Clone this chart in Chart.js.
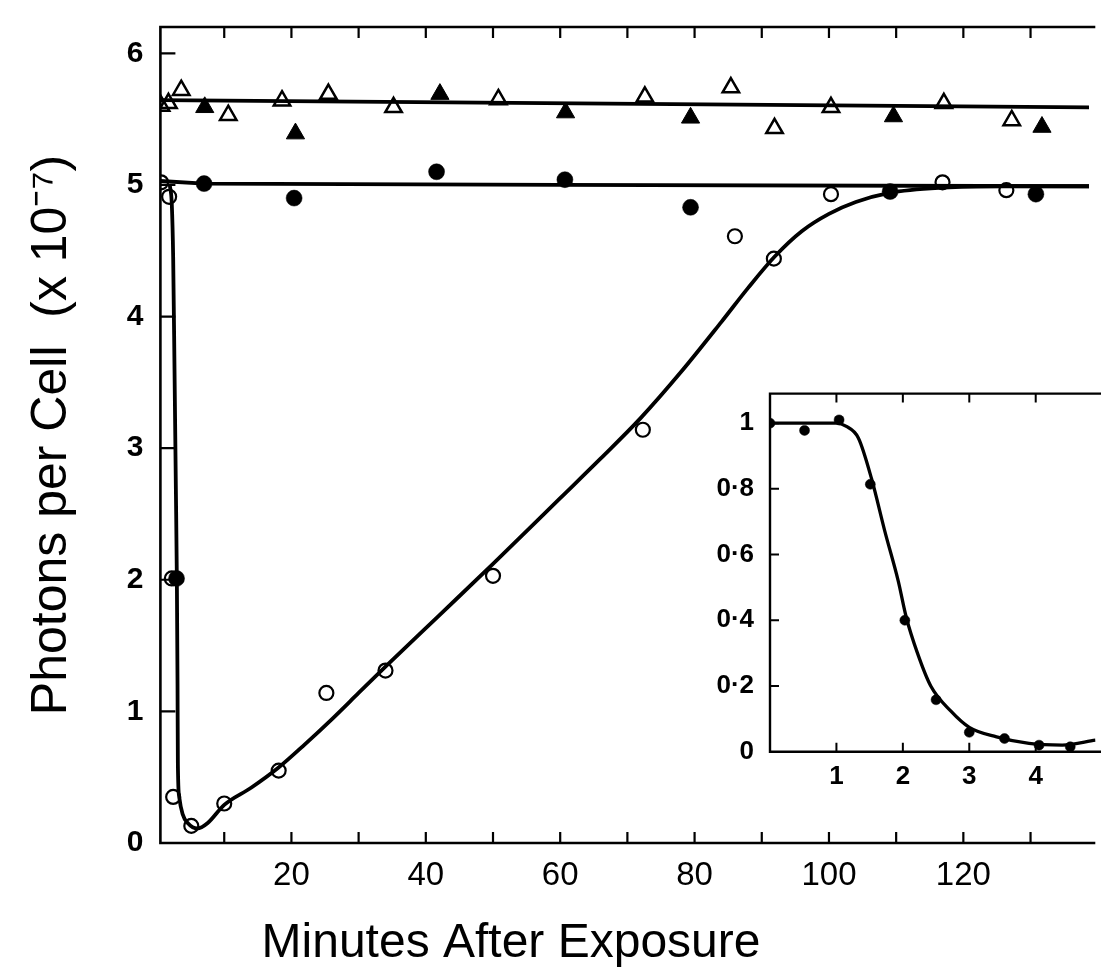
<!DOCTYPE html>
<html>
<head>
<meta charset="utf-8">
<script src="https://cdn.jsdelivr.net/npm/chart.js@4.4.1/dist/chart.umd.min.js"></script>
<style>
  html, body { margin: 0; padding: 0; background: #fff; overflow: hidden; }
  #wrap { position: relative; width: 1101px; height: 975px; overflow: hidden; background: #fff; }
  #main { position: absolute; left: -79px; top: 0; }
  #inset { position: absolute; left: 690px; top: 370px; }
</style>
</head>
<body>
<div id="wrap">
  <canvas id="main" width="1180" height="975"></canvas>
  <canvas id="inset" width="411" height="430"></canvas>
</div>
<script>
// main panel - open circles (recovery after exposure)
const recoveryX = [0.6, 1.8, 2.2, 2.4, 5.1, 10, 18.1, 25.2, 34, 50, 72.3, 86, 91.8, 100.3, 116.9, 126.4];
const recoveryY = [5.02, 4.91, 2.01, 0.35, 0.13, 0.30, 0.55, 1.14, 1.31, 2.03, 3.14, 4.61, 4.44, 4.93, 5.02, 4.96];
// filled circles
const controlX = [2.9, 7.0, 20.4, 41.6, 60.7, 79.4, 109.1, 130.8];
const controlY = [2.01, 5.01, 4.90, 5.10, 5.04, 4.83, 4.95, 4.93];
// open triangles
const openTriX = [0.6, 1.7, 3.6, 10.6, 18.6, 25.5, 35.2, 50.8, 72.6, 85.4, 91.9, 100.3, 117.1, 127.2];
const openTriY = [5.60, 5.62, 5.72, 5.53, 5.64, 5.69, 5.59, 5.65, 5.67, 5.74, 5.43, 5.59, 5.62, 5.49];
// filled triangles
const fillTriX = [7.1, 20.6, 42.1, 60.8, 79.4, 109.6, 131.7];
const fillTriY = [5.59, 5.39, 5.69, 5.55, 5.51, 5.52, 5.44];

// fitted lines
const upperX = [0.5, 138.7];
const upperY = [5.645, 5.59];
const lowerX = [0.5, 7, 60, 138.7];
const lowerY = [5.03, 5.01, 5.0, 4.99];
const fitX = [1.9, 2.2, 2.4, 2.6, 2.8, 2.95, 3.05, 3.1, 3.3, 3.8, 4.6, 6, 7.5, 10, 14, 18, 22, 26, 30, 34, 42, 50, 60, 66, 72, 78, 84, 88, 92, 96, 100, 104, 109, 117, 126, 138.7];
const fitY = [5.0, 4.85, 4.45, 3.6, 2.7, 2.0, 1.2, 0.6, 0.35, 0.22, 0.15, 0.11, 0.15, 0.29, 0.42, 0.57, 0.75, 0.94, 1.14, 1.34, 1.73, 2.12, 2.62, 2.92, 3.23, 3.58, 3.96, 4.22, 4.46, 4.65, 4.78, 4.87, 4.94, 4.98, 4.99, 4.99];

// inset panel
const insetDotX = [0, 0.52, 1.04, 1.51, 2.03, 2.5, 3.0, 3.53, 4.05, 4.52];
const insetDotY = [1.0, 0.978, 1.01, 0.814, 0.40, 0.158, 0.059, 0.04, 0.02, 0.015];
const insetFitX = [0, 1.0, 1.15, 1.33, 1.53, 1.73, 1.93, 2.05, 2.22, 2.42, 2.72, 3.0, 3.41, 3.9, 4.4, 4.9];
const insetFitY = [1.0, 1.0, 0.99, 0.955, 0.83, 0.67, 0.52, 0.41, 0.30, 0.20, 0.124, 0.074, 0.045, 0.025, 0.02, 0.035];

const xTitle = 'Minutes After Exposure';
const yTitle = 'Photons per Cell  (x 10\u207B\u2077)';

function pts(xs, ys) {
  return xs.map((x, i) => ({ x: x, y: ys[i] }));
}

Chart.defaults.font.family = "'Liberation Sans', Arial, sans-serif";
Chart.defaults.color = '#000';

// frame plus inward tick marks, taken from the chart's own scales
const frameTicks = {
  id: 'frameTicks',
  afterDatasetsDraw(chart, args, o) {
    const ctx = chart.ctx, a = chart.chartArea;
    const x = chart.scales.x, y = chart.scales.y;
    ctx.save();
    ctx.strokeStyle = '#000';
    ctx.lineCap = 'square';
    ctx.lineWidth = o.frameWidth;
    ctx.beginPath();
    ctx.moveTo(a.right + 5, a.top);
    ctx.lineTo(a.left, a.top);
    ctx.lineTo(a.left, a.bottom);
    ctx.lineTo(a.right + 5, a.bottom);
    ctx.stroke();
    ctx.lineWidth = o.tickWidth;
    ctx.lineCap = 'butt';
    ctx.beginPath();
    x.ticks.forEach(t => {
      if (t.value <= x.min) return;
      const px = x.getPixelForValue(t.value);
      ctx.moveTo(px, a.bottom); ctx.lineTo(px, a.bottom - o.xTick);
      ctx.moveTo(px, a.top); ctx.lineTo(px, a.top + o.xTick);
    });
    y.ticks.forEach(t => {
      if (t.value <= y.min) return;
      const py = y.getPixelForValue(t.value);
      ctx.moveTo(a.left, py); ctx.lineTo(a.left + o.yTick, py);
    });
    ctx.stroke();
    ctx.restore();
  }
};

const lineStyle = { showLine: true, pointRadius: 0, borderColor: '#000', borderWidth: 3.8, fill: false };

new Chart(document.getElementById('main'), {
  type: 'scatter',
  data: {
    datasets: [
      { label: 'open circles', data: pts(recoveryX, recoveryY), pointStyle: 'circle', pointRadius: 7,
        borderWidth: 2.2, borderColor: '#000', backgroundColor: 'rgba(0,0,0,0)' },
      { label: 'filled circles', data: pts(controlX, controlY), pointStyle: 'circle', pointRadius: 8,
        borderWidth: 0.5, borderColor: '#000', backgroundColor: '#000' },
      { label: 'open triangles', data: pts(openTriX, openTriY), pointStyle: 'triangle', pointRadius: 9.5,
        borderWidth: 2.5, borderColor: '#000', backgroundColor: 'rgba(0,0,0,0)' },
      { label: 'filled triangles', data: pts(fillTriX, fillTriY), pointStyle: 'triangle', pointRadius: 10.5,
        borderWidth: 1, borderColor: '#000', backgroundColor: '#000' },
      Object.assign({ label: 'upper fit', data: pts(upperX, upperY) }, lineStyle),
      Object.assign({ label: 'lower fit', data: pts(lowerX, lowerY) }, lineStyle),
      Object.assign({ label: 'recovery fit', data: pts(fitX, fitY), cubicInterpolationMode: 'monotone' }, lineStyle)
    ]
  },
  options: {
    responsive: false,
    animation: false,
    devicePixelRatio: 1,
    layout: { padding: { top: 18, right: 0, bottom: 0, left: 0 } },
    plugins: {
      legend: { display: false },
      tooltip: { enabled: false },
      title: {
        display: true, text: xTitle, position: 'bottom', color: '#000',
        font: { size: 48, weight: 'normal', lineHeight: 1 },
        padding: { top: 0, bottom: 7 }
      },
      frameTicks: { frameWidth: 2.6, tickWidth: 2.2, xTick: 11, yTick: 15 }
    },
    scales: {
      x: {
        type: 'linear', min: 0.5, max: 138.7,
        afterFit: s => { s.height = 77; },
        grid: { display: false }, border: { display: false },
        ticks: {
          stepSize: 10, includeBounds: false, autoSkip: false, maxRotation: 0, padding: 5,
          font: { size: 33 },
          callback: v => (v % 20 === 0 && v > 0 && v <= 120) ? String(v) : ''
        }
      },
      y: {
        type: 'linear', min: 0, max: 6.2,
        afterFit: s => { s.width = 239.4; },
        grid: { display: false }, border: { display: false },
        title: {
          display: true, text: yTitle, color: '#000',
          font: { size: 50, weight: 'normal', lineHeight: 1 },
          padding: { top: 106, bottom: 0 }
        },
        ticks: { stepSize: 1, includeBounds: false, padding: 9, font: { size: 30, weight: 'bold' } }
      }
    }
  },
  plugins: [frameTicks]
});

new Chart(document.getElementById('inset'), {
  type: 'scatter',
  data: {
    datasets: [
      { label: 'inset points', data: pts(insetDotX, insetDotY), pointStyle: 'circle', pointRadius: 5,
        borderWidth: 0.5, borderColor: '#000', backgroundColor: '#000' },
      Object.assign({ label: 'inset fit', data: pts(insetFitX, insetFitY), cubicInterpolationMode: 'monotone' },
        lineStyle, { borderWidth: 3.3 })
    ]
  },
  options: {
    responsive: false,
    animation: false,
    devicePixelRatio: 1,
    layout: { padding: { top: 13.3, right: 0, bottom: 0, left: 0 } },
    plugins: {
      legend: { display: false },
      tooltip: { enabled: false },
      frameTicks: { frameWidth: 2.4, tickWidth: 2, xTick: 9, yTick: 9 }
    },
    scales: {
      x: {
        type: 'linear', min: 0, max: 4.9,
        afterFit: s => { s.height = 48.3; },
        grid: { display: false }, border: { display: false },
        ticks: {
          stepSize: 1, includeBounds: false, autoSkip: false, maxRotation: 0, padding: 2,
          font: { size: 26, weight: 'bold' },
          callback: v => v === 0 ? '' : String(v)
        }
      },
      y: {
        type: 'linear', min: 0, max: 1.09,
        afterFit: s => { s.width = 80; },
        grid: { display: false }, border: { display: false },
        ticks: {
          stepSize: 0.2, includeBounds: false, padding: 8,
          font: { size: 26, weight: 'bold' },
          callback: v => v === 0 ? '0' : (v === 1 ? '1' : '0\u00B7' + Math.round(v * 10))
        }
      }
    }
  },
  plugins: [frameTicks]
});
</script>
</body>
</html>
